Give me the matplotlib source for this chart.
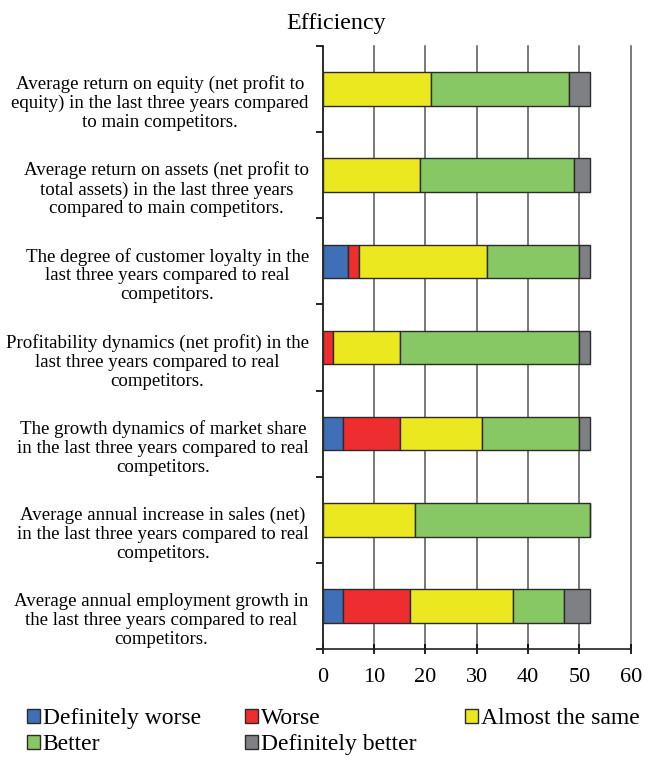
import numpy as np
import matplotlib
matplotlib.use("Agg")
import matplotlib.pyplot as plt

plt.rcParams["font.family"] = ["Liberation Serif", "DejaVu Serif"]

categories = [
    "Average return on equity (net profit to\nequity) in the last three years compared\nto main competitors.",
    "Average return on assets (net profit to\ntotal assets) in the last three years\ncompared to main competitors.",
    "The degree of customer loyalty in the\nlast three years compared to real\ncompetitors.",
    "Profitability dynamics (net profit) in the\nlast three years compared to real\ncompetitors.",
    "The growth dynamics of market share\nin the last three years compared to real\ncompetitors.",
    "Average annual increase in sales (net)\nin the last three years compared to real\ncompetitors.",
    "Average annual employment growth in\nthe last three years compared to real\ncompetitors.",
]

definitely_worse = [0, 0, 5, 0, 4, 0, 4]
worse = [0, 0, 2, 2, 11, 0, 13]
almost_same = [21, 19, 25, 13, 16, 18, 20]
better = [27, 30, 18, 35, 19, 34, 10]
definitely_better = [4, 3, 2, 2, 2, 0, 5]

series = [
    ("Definitely worse", definitely_worse, "#3f6fb6"),
    ("Worse", worse, "#ee2e2e"),
    ("Almost the same", almost_same, "#ece81f"),
    ("Better", better, "#87c864"),
    ("Definitely better", definitely_better, "#7f8085"),
]

fig = plt.figure(figsize=(6.45, 7.57), dpi=100)
ax = fig.add_axes([0.5003, 0.1427, 0.4777, 0.7965])

y = np.arange(len(categories))
left = np.zeros(len(categories))
bars = {}
for name, vals, col in series:
    vals = np.array(vals, dtype=float)
    bars[name] = ax.barh(y, vals, left=left, height=0.39, color=col,
                         edgecolor="#2b2b2b", linewidth=1.0, label=name,
                         zorder=3)
    left += vals

ax.set_xlim(0, 60)
ax.set_ylim(len(categories) - 0.5, -0.5)
ax.set_xticks(np.arange(0, 61, 10))
ax.tick_params(axis="x", direction="inout", length=7, width=1.2,
               labelsize=16, pad=10)
ax.grid(axis="x", color="#555555", linewidth=1.1, zorder=0)
for gl in ax.get_xgridlines():
    gl.set_clip_on(False)

# boundaries between categories get the ticks, labels sit a bit below centre
ax.set_yticks(np.arange(-0.5, len(categories), 1.0))
ax.set_yticklabels([])
ax.tick_params(axis="y", which="major", direction="out", length=5, width=1.2)
ax.set_yticks(y + 0.13, minor=True)
ax.set_yticklabels(categories, minor=True, fontsize=13.6, ha="right",
                   multialignment="center", linespacing=1.15)
ax.tick_params(axis="y", which="minor", length=0, pad=10)

for s in ["top", "right"]:
    ax.spines[s].set_visible(False)
for s in ["left", "bottom"]:
    ax.spines[s].set_linewidth(1.2)
    ax.spines[s].set_color("#222222")

fig.text(336 / 645, 1 - 29 / 757, "Efficiency", ha="center", va="baseline",
         fontsize=17.3)

# legend: three columns placed like the original (row-wise order)
columns = [
    (27, ["Definitely worse", "Better"]),
    (245, ["Worse", "Definitely better"]),
    (465, ["Almost the same"]),
]
for xpix, names in columns:
    leg = fig.legend([bars[n] for n in names], names, loc="upper left",
                     bbox_to_anchor=(xpix / 645, 1 - 708 / 757),
                     frameon=False, fontsize=17, handlelength=0.55,
                     handleheight=0.55, handletextpad=0.12,
                     labelspacing=0.22, borderaxespad=0, borderpad=0)

fig.savefig("out.png", dpi=100)
